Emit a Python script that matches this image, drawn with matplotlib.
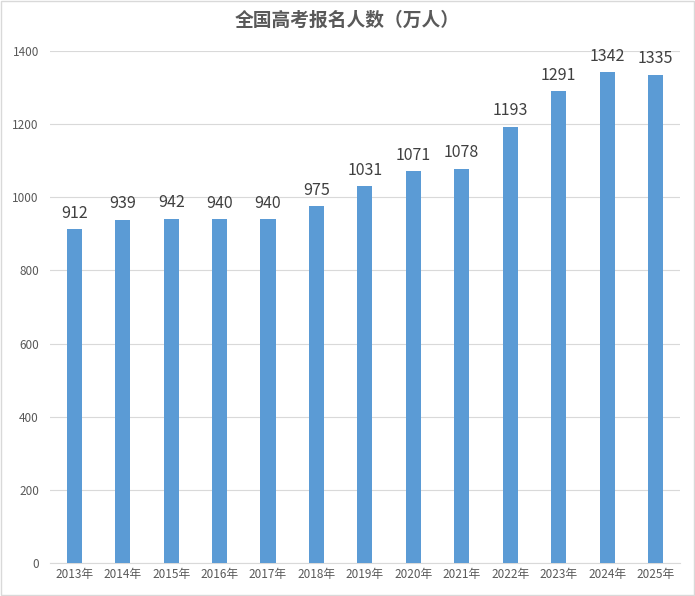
import matplotlib.pyplot as plt
from matplotlib.patches import Rectangle

YEARS = ['2013年', '2014年', '2015年', '2016年', '2017年', '2018年', '2019年',
         '2020年', '2021年', '2022年', '2023年', '2024年', '2025年']
APPLICANTS = [912, 939, 942, 940, 940, 975, 1031, 1071, 1078, 1193, 1291, 1342, 1335]
Y_TICKS = [0, 200, 400, 600, 800, 1000, 1200, 1400]

plt.rcParams['font.family'] = ['Noto Sans CJK SC', 'DejaVu Sans']

fig = plt.figure(figsize=(6.95, 5.96), dpi=100)
ax = fig.add_axes([0.072, 0.0554, 0.906, 0.859])

x = range(len(YEARS))
bars = ax.bar(x, APPLICANTS, width=0.31, color='#5B9BD5', zorder=3)
for xi, v in zip(x, APPLICANTS):
    ax.text(xi, v + 20, str(v), ha='center', va='bottom', fontsize=11.5, color='#404040')

ax.set_xlim(-0.5, len(YEARS) - 0.5)
ax.set_ylim(0, 1400)
ax.set_yticks(Y_TICKS)
ax.set_xticks(list(x))
ax.set_xticklabels(YEARS)
ax.tick_params(axis='both', length=0, labelsize=8.5, colors='#595959')
ax.tick_params(axis='y', pad=8)
ax.grid(axis='y', color='#D9D9D9', linewidth=0.8, zorder=0)
for name in ('top', 'right', 'left'):
    ax.spines[name].set_visible(False)
ax.spines['bottom'].set_color('#D9D9D9')

fig.text(0.5, 0.966, '全国高考报名人数（万人）', ha='center', va='center',
         fontsize=13.5, fontweight='bold', color='#595959')
fig.patches.append(Rectangle((0.001, 0.001), 0.998, 0.998, transform=fig.transFigure,
                             fill=False, edgecolor='#D9D9D9', linewidth=1))

plt.savefig('out.png', dpi=100)
